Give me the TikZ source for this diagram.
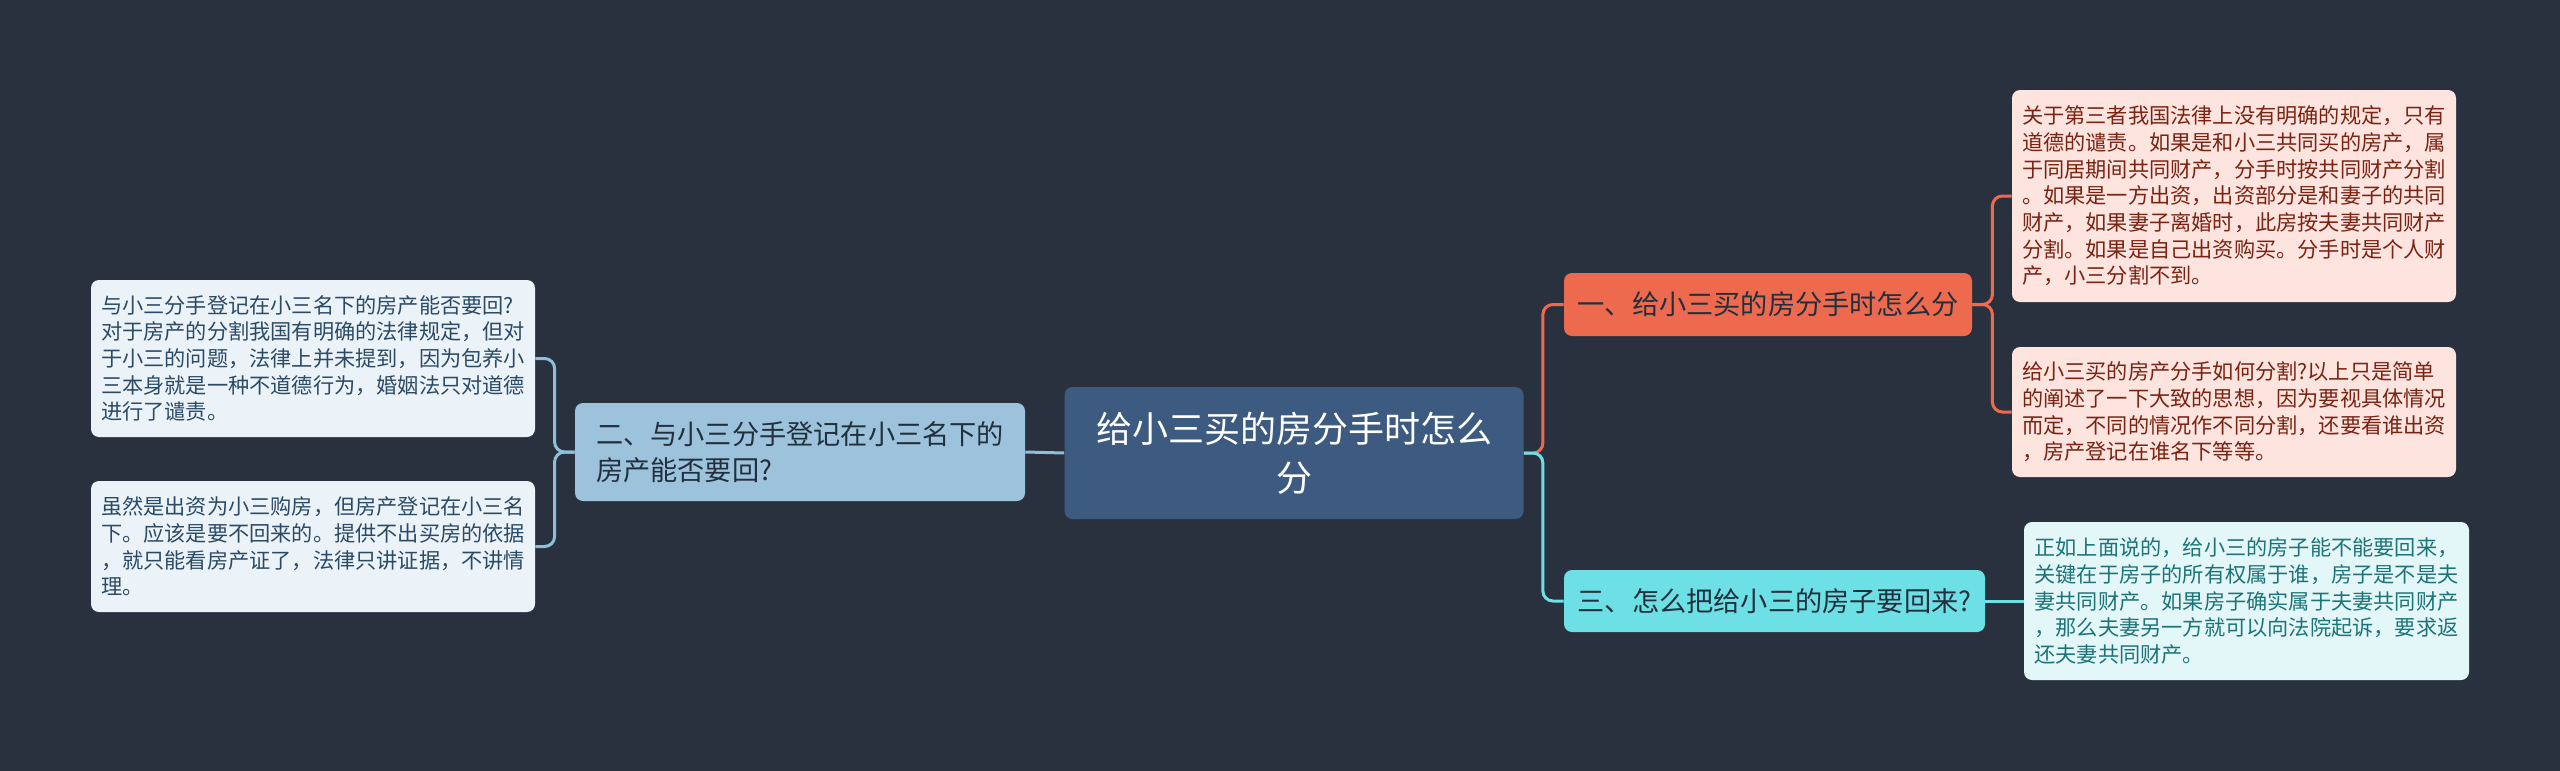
\documentclass[tikz,border=0pt]{standalone}
\usepackage{fontspec}
\setmainfont{Noto Sans CJK SC}
\usepackage{xcolor,amsmath}

\definecolor{bgNavy}{HTML}{29313F}
\definecolor{rootBlue}{HTML}{3D5A80}
\definecolor{sideBlue}{HTML}{9CC2DC}
\definecolor{paleBlue}{HTML}{EBF3F9}
\definecolor{inkBlue}{HTML}{2A4A66}
\definecolor{lineBlue}{HTML}{8FC0DA}
\definecolor{mainOrange}{HTML}{EE6A4E}
\definecolor{paleRed}{HTML}{FDE4DE}
\definecolor{inkRed}{HTML}{7A2312}
\definecolor{mainCyan}{HTML}{6DE0E5}
\definecolor{paleCyan}{HTML}{E4F7F8}
\definecolor{inkTeal}{HTML}{1C7479}
\definecolor{inkDark}{HTML}{22303E}

\tikzset{
  box/.style={rounded corners=4pt,inner sep=0pt,align=left},
  leafFont/.style={font=\fontsize{10.6}{13.35}\selectfont},
  branchFont/.style={font=\fontsize{13.6}{18}\selectfont},
  rootBox/.style={box,fill=rootBlue,text=white,align=center,font=\fontsize{18}{24.5}\selectfont},
  sideBox/.style={box,branchFont,fill=sideBlue,text=inkDark},
  leafBlue/.style={box,leafFont,fill=paleBlue,text=inkBlue},
  branchOrange/.style={box,branchFont,fill=mainOrange,text=inkDark},
  leafRed/.style={box,leafFont,fill=paleRed,text=inkRed},
  branchCyan/.style={box,branchFont,fill=mainCyan,text=inkDark},
  leafCyan/.style={box,leafFont,fill=paleCyan,text=inkTeal},
  wire/.style={line width=1.5pt,rounded corners=5pt}
}

\begin{document}
\begin{tikzpicture}[x=0.5pt,y=0.5pt,yscale=-1,xscale=1]
%set diagram left start at 0, and has height of 771
\fill [bgNavy] (0,0) rectangle (2560,771);
\useasboundingbox (0,0) rectangle (2560,771);

% Text Node
\draw (1294,453) node [rootBox,minimum width=229.5pt,minimum height=66pt] (root) {给小三买的房分手时怎么\\分};
% Text Node
\draw (800,452) node [sideBox,minimum width=225pt,minimum height=49pt] (side2) {二、与小三分手登记在小三名下的\\房产能否要回?};
% Text Node
\draw (313,358.5) node [leafBlue,minimum width=222pt,minimum height=78.5pt] (leaf2a) {与小三分手登记在小三名下的房产能否要回?\\对于房产的分割我国有明确的法律规定，但对\\于小三的问题，法律上并未提到，因为包养小\\三本身就是一种不道德行为，婚姻法只对道德\\进行了谴责。};
% Text Node
\draw (313,546.5) node [leafBlue,minimum width=222pt,minimum height=65.5pt] (leaf2b) {虽然是出资为小三购房，但房产登记在小三名\\下。应该是要不回来的。提供不出买房的依据\\，就只能看房产证了，法律只讲证据，不讲情\\理。};
% Text Node
\draw (1768,304.5) node [branchOrange,minimum width=204pt,minimum height=31.5pt] (side1) {一、给小三买的房分手时怎么分};
% Text Node
\draw (1774.5,601) node [branchCyan,minimum width=210.5pt,minimum height=31pt] (side3) {三、怎么把给小三的房子要回来?};
% Text Node
\draw (2234,196) node [leafRed,minimum width=222pt,minimum height=106pt] (leaf1a) {关于第三者我国法律上没有明确的规定，只有\\道德的谴责。如果是和小三共同买的房产，属\\于同居期间共同财产，分手时按共同财产分割\\。如果是一方出资，出资部分是和妻子的共同\\财产，如果妻子离婚时，此房按夫妻共同财产\\分割。如果是自己出资购买。分手时是个人财\\产，小三分割不到。};
% Text Node
\draw (2234,412) node [leafRed,minimum width=222pt,minimum height=65pt] (leaf1b) {给小三买的房产分手如何分割?以上只是简单\\的阐述了一下大致的思想，因为要视具体情况\\而定，不同的情况作不同分割，还要看谁出资\\，房产登记在谁名下等等。};
% Text Node
\draw (2246.5,601) node [leafCyan,minimum width=222.5pt,minimum height=79pt] (leaf3a) {正如上面说的，给小三的房子能不能要回来，\\关键在于房子的所有权属于谁，房子是不是夫\\妻共同财产。如果房子确实属于夫妻共同财产\\，那么夫妻另一方就可以向法院起诉，要求返\\还夫妻共同财产。};

% Connection
\draw [wire,mainOrange] (root.east) -- ++(19,0) |- (side1.west) ;
% Connection
\draw [wire,mainCyan] (root.east) -- ++(19,0) |- (side3.west) ;
% Connection
\draw [wire,lineBlue] (root.west) -- (side2.east) ;
% Connection
\draw [wire,lineBlue] (side2.west) -- ++(-20,0) |- (leaf2a.east) ;
% Connection
\draw [wire,lineBlue] (side2.west) -- ++(-20,0) |- (leaf2b.east) ;
% Connection
\draw [wire,mainOrange] (side1.east) -- ++(20,0) |- (leaf1a.west) ;
% Connection
\draw [wire,mainOrange] (side1.east) -- ++(20,0) |- (leaf1b.west) ;
% Connection
\draw [wire,mainCyan] (side3.east) -- (leaf3a.west) ;

\end{tikzpicture}
\end{document}
